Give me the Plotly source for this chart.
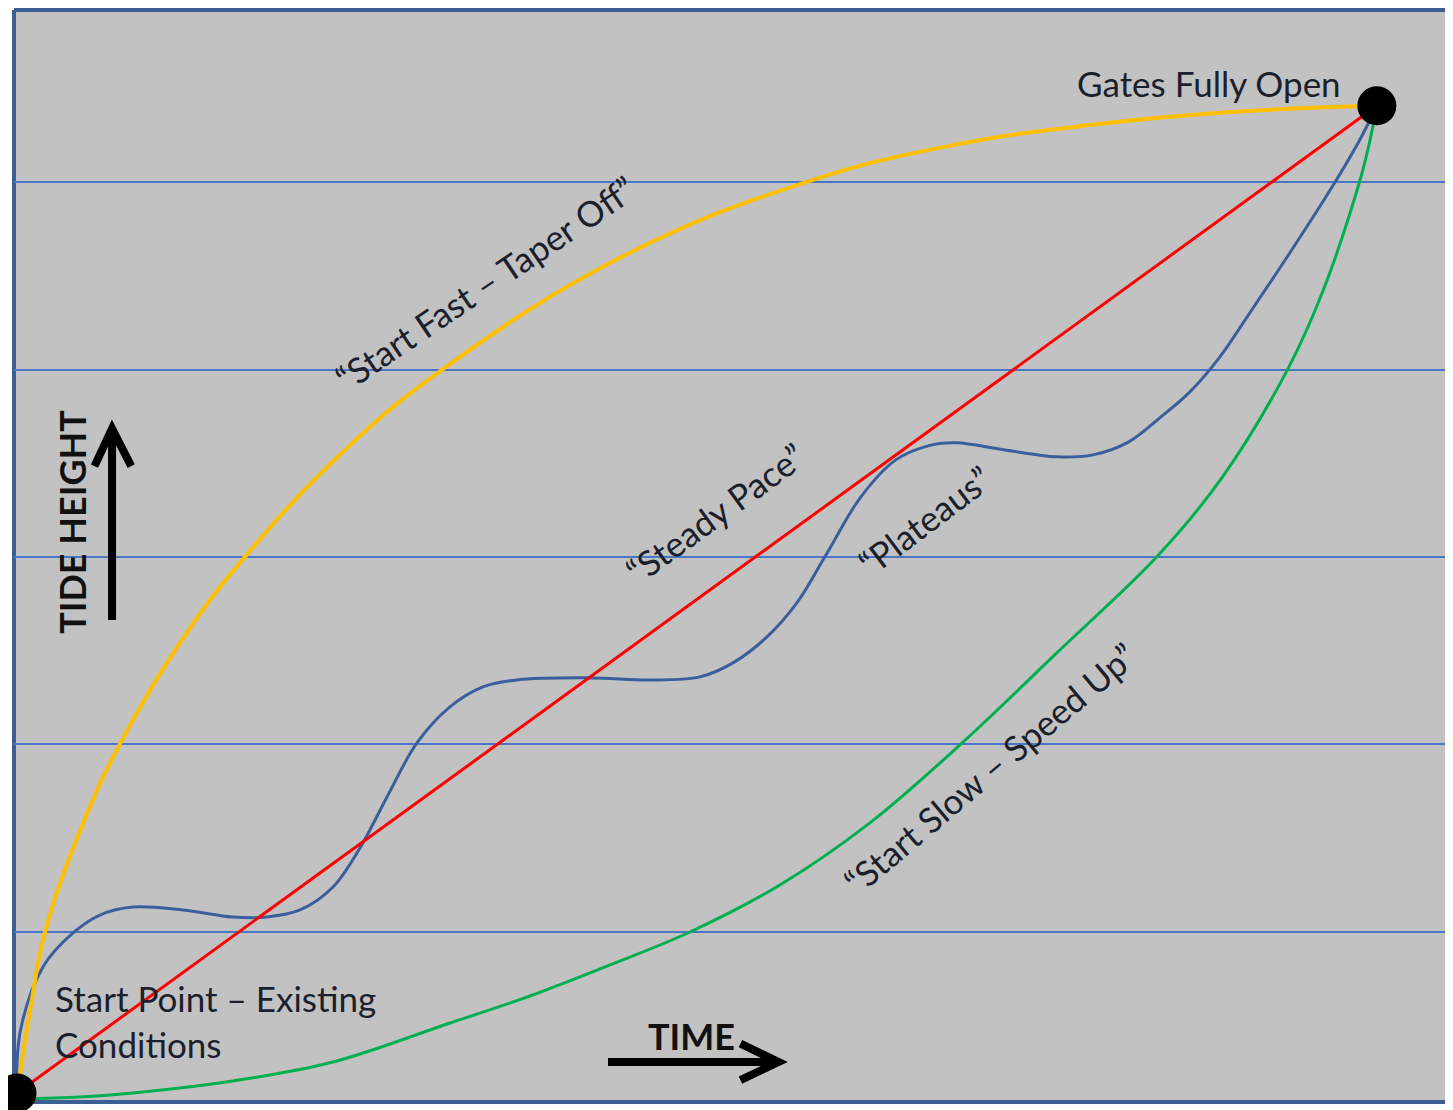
import plotly.graph_objects as go

# ---- data (time 0-100, tide height 0-100) ----
fast_time = [0, 1.03, 2.06, 4.78, 7.57, 12.13, 16.76, 23.97, 31.25, 44.63, 58.09, 68.60, 79.04, 89.56, 100]
fast_height = [0, 8.92, 16.31, 27.05, 35.36, 45.90, 54.31, 64.94, 73.25, 84.80, 92.30, 95.95, 98.07, 99.39, 100]

steady_time = [0, 100]
steady_height = [0, 100]

plateau_time = [0, 0.22, 1.91, 4.12, 6.10, 8.53, 12.21, 15.88, 18.38, 20.81, 23.24, 25.22, 27.21, 29.41,
                31.84, 34.26, 36.76, 42.13, 46.54, 50.22, 52.65, 55.15, 57.35, 59.41, 62.06, 64.63,
                67.28, 69.12, 72.57, 76.47, 79.12, 81.76, 84.04, 86.25, 88.46, 90.66, 93.75, 96.76, 98.75, 100]
plateau_height = [0, 6.08, 12.77, 16.21, 18.03, 18.84, 18.54, 17.83, 17.83, 18.54, 20.87, 24.82, 29.99, 35.46,
                  39.11, 41.13, 41.84, 42.05, 41.84, 42.15, 43.57, 46.20, 49.65, 54.31, 60.39, 64.13,
                  65.65, 65.86, 65.15, 64.44, 64.64, 65.96, 68.39, 71.02, 74.57, 79.03, 85.41, 91.89, 96.56, 100]

slow_time = [0, 4.63, 8.53, 15.88, 23.24, 31.84, 37.72, 43.60, 49.49, 56.10, 62.72, 69.34, 76.54,
             83.82, 88.60, 93.46, 96.10, 98.75, 99.41, 100]
slow_height = [-0.61, -0.41, 0, 1.22, 3.14, 7.09, 9.83, 12.97, 16.31, 21.07, 27.36, 35.26, 44.68,
               54.31, 62.31, 73.35, 81.46, 92.40, 95.95, 100]

endpoint_time = [0, 100]
endpoint_height = [0, 100]

grid_levels = [16.3, 35.35, 54.3, 73.25, 92.3]

# ---- figure ----
fig = go.Figure()

fig.add_trace(go.Scatter(x=slow_time, y=slow_height, mode="lines",
                         line=dict(color="#00B050", width=3, shape="spline", smoothing=1.0),
                         hoverinfo="skip", cliponaxis=False))
fig.add_trace(go.Scatter(x=plateau_time, y=plateau_height, mode="lines",
                         line=dict(color="#3A5F9C", width=3, shape="spline", smoothing=1.0),
                         hoverinfo="skip", cliponaxis=False))
fig.add_trace(go.Scatter(x=steady_time, y=steady_height, mode="lines",
                         line=dict(color="#FF0000", width=3),
                         hoverinfo="skip", cliponaxis=False))
fig.add_trace(go.Scatter(x=fast_time, y=fast_height, mode="lines",
                         line=dict(color="#FFC000", width=4, shape="spline", smoothing=1.2),
                         hoverinfo="skip", cliponaxis=False))
fig.add_trace(go.Scatter(x=endpoint_time, y=endpoint_height, mode="markers",
                         marker=dict(color="black", size=39),
                         hoverinfo="skip", cliponaxis=False))

txt = dict(family="Lato, 'Open Sans', sans-serif", size=35, color="#1B1F2C")
bold = dict(family="Lato, 'Open Sans', sans-serif", size=36, color="#111111")

annotations = [
    dict(x=97.5, y=102.3, text="Gates Fully Open", xanchor="right", yanchor="middle", font=txt),
    dict(x=2.65, y=9.63, text="Start Point – Existing", xanchor="left", yanchor="middle", font=txt),
    dict(x=2.65, y=4.96, text="Conditions", xanchor="left", yanchor="middle", font=txt),
    dict(x=49.63, y=5.78, text="<b>TIME</b>", xanchor="center", yanchor="middle", font=bold),
    dict(x=4.04, y=57.85, text="<b>TIDE HEIGHT</b>", textangle=-90, xanchor="center", yanchor="middle", font=bold),
    dict(x=34.41, y=82.07, text="“Start Fast – Taper Off”", textangle=-34, font=txt),
    dict(x=51.32, y=58.76, text="“Steady Pace”", textangle=-36, font=txt),
    dict(x=66.76, y=58.05, text="“Plateaus”", textangle=-37, font=txt),
    dict(x=71.54, y=32.93, text="“Start Slow – Speed Up”", textangle=-40, font=txt),
]
for a in annotations:
    a.update(xref="x", yref="y", showarrow=False)

arrow_line = dict(color="black", width=8)
frame_line = dict(color="#3B5E93", width=4)
shapes = [
    # TIME arrow
    dict(type="line", xref="x", yref="y", x0=43.46, y0=3.14, x1=55.8, y1=3.14, line=arrow_line),
    dict(type="path", xref="x", yref="y", path="M 53.2,5.0 L 56.0,3.14 L 53.2,1.3", line=arrow_line),
    # TIDE HEIGHT arrow
    dict(type="line", xref="x", yref="y", x0=6.99, y0=47.92, x1=6.99, y1=67.0, line=arrow_line),
    dict(type="path", xref="x", yref="y", path="M 5.7,63.5 L 6.99,67.3 L 8.4,63.5", line=arrow_line),
    # frame (left, top, bottom) below the data
    dict(type="line", xref="paper", yref="paper", x0=0, y0=0, x1=0, y1=1, line=frame_line, layer="below"),
    dict(type="line", xref="paper", yref="paper", x0=0, y0=1, x1=1, y1=1, line=frame_line, layer="below"),
    dict(type="line", xref="paper", yref="paper", x0=0, y0=0, x1=1, y1=0, line=frame_line, layer="below"),
]

# the page body adds an 8px margin, so the figure is sized/offset to compensate
fig.update_layout(
    width=1445, height=1102,
    margin=dict(l=6, r=0, t=2, b=8),
    paper_bgcolor="white",
    plot_bgcolor="#C2C2C2",
    showlegend=False,
    annotations=annotations,
    shapes=shapes,
    xaxis=dict(range=[-0.22, 105.6], showgrid=False, zeroline=False, showticklabels=False,
               ticks="", fixedrange=True),
    yaxis=dict(range=[-0.91, 109.7], tickvals=grid_levels, showgrid=True, gridcolor="#4A76C6",
               gridwidth=1.5, zeroline=False, showticklabels=False, ticks="", fixedrange=True),
)

fig.write_html("out.html")
